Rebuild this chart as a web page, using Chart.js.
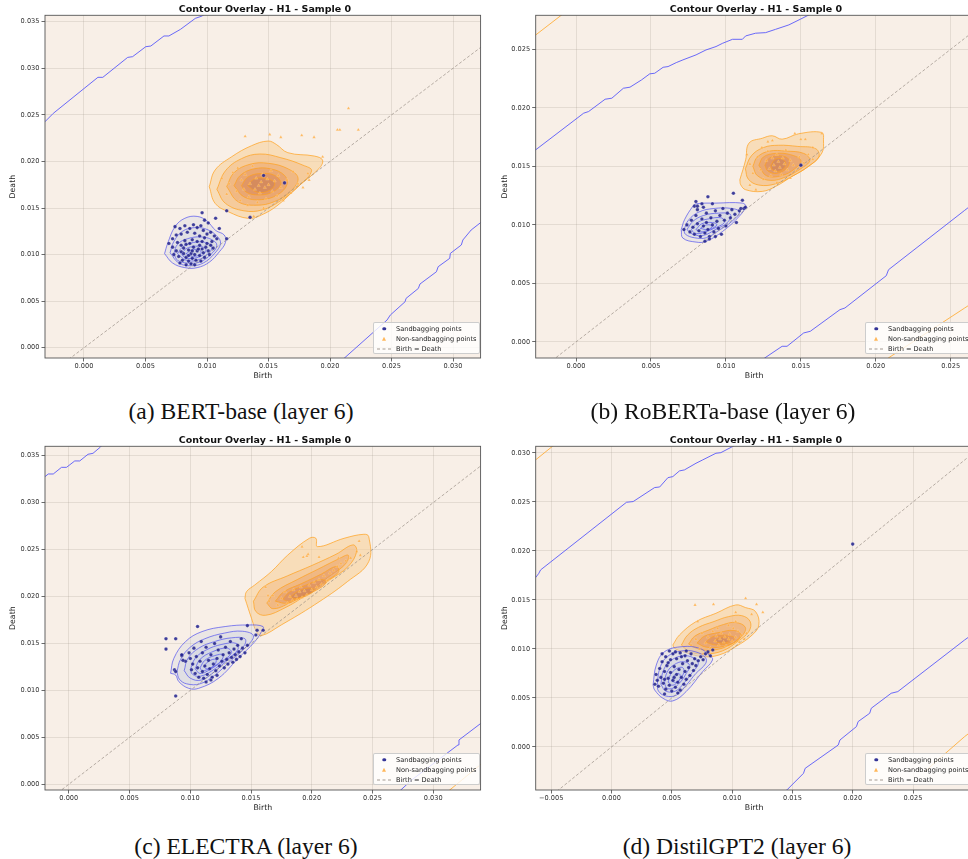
<!DOCTYPE html>
<html>
<head>
<meta charset="utf-8">
<script src="https://cdn.jsdelivr.net/npm/chart.js@4.4.1/dist/chart.umd.min.js"></script>
<style>
  html, body { margin: 0; padding: 0; background: #fff; overflow: hidden; }
  #page { position: relative; width: 968px; height: 859px; overflow: hidden; background: #fff; }
  .panel { position: absolute; }
  .ttl { position: absolute; transform: translate(-50%, -50%); font: bold 9.5px "DejaVu Sans", sans-serif; color: #111; white-space: nowrap; }
  .cap { position: absolute; transform: translate(-50%, -50%); font: 23.6px "Liberation Serif", "Times New Roman", serif; color: #111; white-space: nowrap; }
  .lg { position: absolute; width: 107px; height: 32px; background: rgba(255,255,255,0.8); border: 1px solid rgba(200,200,200,0.9); border-radius: 2px; box-sizing: border-box; font: 6.6px "DejaVu Sans", sans-serif; color: #222; }
  .lg .row { position: absolute; left: 22px; white-space: nowrap; transform: translateY(-50%); }
  .lg .mk { position: absolute; transform: translate(-50%, -50%); }
  .dot { width: 3.5px; height: 3.5px; border-radius: 50%; background: rgba(30,30,140,0.9); }
  .tri { width: 4px; height: 4px; background: rgba(255,170,60,0.85); clip-path: polygon(50% 0, 100% 100%, 0 100%); }
  .dash { width: 14px; height: 0; border-top: 1px dashed rgba(140,130,120,0.8); }
</style>
</head>
<body>
<div id="page">
  <div class="panel" style="left:0;top:0;width:485px;height:385px"><canvas id="cA"></canvas></div>
  <div class="panel" style="left:484px;top:0;width:493px;height:385px"><canvas id="cB"></canvas></div>
  <div class="panel" style="left:0;top:425px;width:485px;height:392px"><canvas id="cC"></canvas></div>
  <div class="panel" style="left:484px;top:425px;width:493px;height:392px"><canvas id="cD"></canvas></div>

  <div class="ttl" style="left:265px;top:8px">Contour Overlay - H1 - Sample 0</div>
  <div class="ttl" style="left:756px;top:8px">Contour Overlay - H1 - Sample 0</div>
  <div class="ttl" style="left:265px;top:439px">Contour Overlay - H1 - Sample 0</div>
  <div class="ttl" style="left:756px;top:439px">Contour Overlay - H1 - Sample 0</div>

  <div class="cap" style="left:241px;top:411px">(a) BERT-base (layer 6)</div>
  <div class="cap" style="left:723px;top:411px">(b) RoBERTa-base (layer 6)</div>
  <div class="cap" style="left:246px;top:846px">(c) ELECTRA (layer 6)</div>
  <div class="cap" style="left:737px;top:846px">(d) DistilGPT2 (layer 6)</div>
</div>
<script>
// ---------- Data ----------
const legendLabels = ["Sandbagging points", "Non-sandbagging points", "Birth = Death"];
const birthDeath = [[-0.01, -0.01], [0.04, 0.04]];

// (a) BERT-base
const limitsA = [-0.00317, 0.03224, -0.0011, 0.03569];
const xTicksA = [0, 0.005, 0.010, 0.015, 0.020, 0.025, 0.030];
const yTicksA = [0, 0.005, 0.010, 0.015, 0.020, 0.025, 0.030, 0.035];
const sandA = [[0.0074,0.0130],[0.0078,0.0128],[0.0082,0.0131],[0.0086,0.0128],[0.0089,0.0132],[0.0092,0.0129],[0.0095,0.0131],[0.0084,0.0124],[0.0079,0.0122],[0.0075,0.0121],[0.0090,0.0123],[0.0097,0.0126],[0.0100,0.0122],[0.0103,0.0124],[0.0106,0.0120],[0.0108,0.0117],[0.0104,0.0114],[0.0098,0.0118],[0.0094,0.0120],[0.0072,0.0117],[0.0069,0.0112],[0.0101,0.0134],[0.0098,0.0137],
  [0.0072,0.0108],[0.0075,0.0104],[0.0073,0.0100],[0.0077,0.0098],[0.0079,0.0103],[0.0081,0.0107],[0.0083,0.0111],[0.0085,0.0105],[0.0087,0.0101],[0.0083,0.0097],[0.0080,0.0094],[0.0085,0.0093],[0.0088,0.0096],[0.0090,0.0100],[0.0092,0.0104],[0.0089,0.0108],[0.0086,0.0112],[0.0094,0.0110],[0.0096,0.0106],[0.0094,0.0099],[0.0091,0.0094],[0.0087,0.0090],[0.0083,0.0089],[0.0097,0.0102],[0.0099,0.0108],[0.0101,0.0104],[0.0098,0.0097],[0.0095,0.0093],[0.0103,0.0110],[0.0105,0.0107],[0.0102,0.0100],[0.0079,0.0110],[0.0076,0.0113],[0.0082,0.0115],[0.0088,0.0116],[0.0092,0.0114],[0.0096,0.0114],[0.0100,0.0112],[0.0078,0.0091],[0.0090,0.0089],[0.0085,0.0099],[0.0081,0.0101],[0.0093,0.0106],[0.0088,0.0104],
  [0.0096,0.0145],[0.0107,0.0139],[0.0116,0.0147],[0.0116,0.0117],[0.0135,0.0140],[0.0146,0.0185],[0.0163,0.0177],[0.0110,0.0128]];
const nonSandA = [[0.0131,0.0227],[0.0151,0.0229],[0.0160,0.0226],[0.0177,0.0228],[0.0187,0.0226],[0.0206,0.0234],[0.0208,0.0234],[0.0215,0.0257],[0.0223,0.0234],[0.0194,0.0205],[0.0138,0.0141],
  [0.0112,0.0182],[0.0118,0.0176],[0.0121,0.0188],[0.0125,0.0193],[0.0128,0.0180],[0.0130,0.0170],[0.0131,0.0186],[0.0134,0.0162],[0.0135,0.0176],[0.0137,0.0195],[0.0139,0.0170],[0.0140,0.0182],[0.0142,0.0174],[0.0143,0.0166],[0.0144,0.0178],[0.0145,0.0186],[0.0147,0.0172],[0.0148,0.0160],[0.0149,0.0181],[0.0150,0.0175],[0.0152,0.0190],[0.0153,0.0168],[0.0155,0.0179],[0.0157,0.0163],[0.0158,0.0185],[0.0160,0.0172],[0.0162,0.0158],[0.0165,0.0180],[0.0168,0.0166],[0.0170,0.0189],[0.0174,0.0176],[0.0178,0.0172],[0.0182,0.0187],[0.0183,0.0180],[0.0124,0.0168],[0.0127,0.0158],[0.0133,0.0153],[0.0141,0.0156],[0.0146,0.0150],[0.0116,0.0165]];
const orangeLevelsA = [
  [[0.01018,0.01729],[0.01066,0.01908],[0.01201,0.02051],[0.01362,0.02169],[0.01496,0.02219],[0.01563,0.02183],[0.01657,0.02094],[0.01872,0.02058],[0.01939,0.02015],[0.01912,0.01926],[0.01738,0.01729],[0.01577,0.01532],[0.01442,0.01425],[0.01335,0.01389],[0.01174,0.01460],[0.01066,0.01550]],
  [[0.0108,0.0170],[0.0115,0.0190],[0.0128,0.0203],[0.0143,0.0208],[0.0160,0.0204],[0.0178,0.0196],[0.0185,0.0190],[0.0175,0.0174],[0.0160,0.0158],[0.0145,0.0148],[0.0130,0.0147],[0.0115,0.0155]],
  [[0.0116,0.0173],[0.0122,0.0188],[0.0135,0.0197],[0.0150,0.0198],[0.0166,0.0192],[0.0174,0.0182],[0.0168,0.0168],[0.0155,0.0157],[0.0140,0.0153],[0.0125,0.0157]],
  [[0.0122,0.0174],[0.0127,0.0185],[0.0138,0.0192],[0.0152,0.0192],[0.0163,0.0185],[0.0165,0.0175],[0.0157,0.0164],[0.0144,0.0159],[0.0130,0.0162]],
  [[0.0128,0.0174],[0.0133,0.0183],[0.0143,0.0187],[0.0155,0.0185],[0.0160,0.0176],[0.0153,0.0167],[0.0142,0.0164],[0.0132,0.0167]],
  [[0.0133,0.0174],[0.0138,0.0181],[0.0147,0.0182],[0.0155,0.0177],[0.0151,0.0169],[0.0141,0.0167]]];
const blueLevelsA = [
  [[0.00655,0.0101],[0.0068,0.0112],[0.0074,0.0130],[0.0082,0.0139],[0.0092,0.0141],[0.0100,0.0136],[0.0107,0.0126],[0.0114,0.0121],[0.0115,0.0113],[0.0110,0.0103],[0.0102,0.0092],[0.0092,0.0086],[0.0082,0.0086],[0.0072,0.0091]],
  [[0.0070,0.0102],[0.0073,0.0114],[0.0080,0.0125],[0.0090,0.0129],[0.0100,0.0127],[0.0108,0.0120],[0.0111,0.0112],[0.0106,0.0101],[0.0097,0.0091],[0.0087,0.0088],[0.0077,0.0091]],
  [[0.0073,0.0101],[0.0076,0.0111],[0.0084,0.0117],[0.0095,0.0119],[0.0104,0.0116],[0.0108,0.0110],[0.0103,0.0100],[0.0094,0.0092],[0.0084,0.0091],[0.0076,0.0094]],
  [[0.0076,0.0101],[0.0080,0.0108],[0.0089,0.0113],[0.0099,0.0113],[0.0104,0.0108],[0.0100,0.0100],[0.0092,0.0094],[0.0083,0.0094]],
  [[0.0079,0.0101],[0.0084,0.0107],[0.0093,0.0109],[0.0099,0.0106],[0.0097,0.0100],[0.0089,0.0096],[0.0082,0.0097]],
  [[0.0083,0.0101],[0.0088,0.0105],[0.0094,0.0105],[0.0095,0.0101],[0.0089,0.0098]]];
const blueEdgesA = [
  [[-0.0035,0.0238],[-0.00317,0.02427],[-0.0025,0.02516],[0.00113,0.02903],[0.00153,0.02903],[0.00355,0.03117],[0.00395,0.03125],[0.00502,0.03232],[0.00543,0.03239],[0.0065,0.03347],[0.0069,0.03347],[0.00784,0.03418],[0.00905,0.03536],[0.00959,0.03561],[0.0100,0.0360]],
  [[0.0200,-0.0025],[0.02114,-0.00114],[0.02463,0.00297],[0.02490,0.00351],[0.02610,0.00494],[0.02618,0.00530],[0.02718,0.00637],[0.02731,0.00684],[0.02865,0.00816],[0.02879,0.00870],[0.02973,0.00960],[0.02978,0.01013],[0.03067,0.01103],[0.03080,0.01157],[0.03147,0.01264],[0.0325,0.0137]]];
const orangeEdgesA = [];

// (b) RoBERTa-base
const limitsB = [-0.00269, 0.02646, -0.00137, 0.0279];
const xTicksB = [0, 0.005, 0.010, 0.015, 0.020, 0.025];
const yTicksB = [0, 0.005, 0.010, 0.015, 0.020, 0.025];
const sandB = [[0.0072,0.0096],[0.0074,0.0100],[0.0076,0.0094],[0.0077,0.0104],[0.0078,0.0098],[0.0079,0.0092],[0.0080,0.0108],[0.0081,0.0101],[0.0082,0.0095],[0.0083,0.0090],[0.0084,0.0105],[0.0085,0.0099],[0.0086,0.0093],[0.0087,0.0110],[0.0087,0.0102],[0.0088,0.0096],[0.0089,0.0090],[0.0090,0.0106],[0.0091,0.0100],[0.0092,0.0094],[0.0093,0.0112],[0.0094,0.0103],[0.0095,0.0097],[0.0096,0.0108],[0.0097,0.0092],[0.0098,0.0114],[0.0099,0.0104],[0.0100,0.0099],[0.0101,0.0110],[0.0103,0.0106],[0.0104,0.0113],[0.0106,0.0109],[0.0107,0.0102],[0.0109,0.0112],[0.0110,0.0114],[0.0112,0.0114],[0.0085,0.0115],[0.0081,0.0113],[0.0089,0.0088],[0.0093,0.0090],[0.0086,0.0086],[0.0079,0.0116],
  [0.0080,0.0120],[0.0081,0.0116],[0.0088,0.0124],[0.0084,0.0118],[0.0091,0.0118],[0.0105,0.0127],[0.0111,0.0121],[0.0150,0.0151],[0.0113,0.0115]];
const nonSandB = [[0.0116,0.0152],[0.0118,0.0144],[0.0121,0.0158],[0.0123,0.0147],[0.0125,0.0139],[0.0127,0.0155],[0.0128,0.0163],[0.0129,0.0148],[0.0130,0.0142],[0.0131,0.0157],[0.0132,0.0151],[0.0133,0.0146],[0.0134,0.0160],[0.0135,0.0154],[0.0136,0.0149],[0.0137,0.0143],[0.0138,0.0157],[0.0139,0.0152],[0.0140,0.0164],[0.0141,0.0147],[0.0143,0.0155],[0.0145,0.0151],[0.0147,0.0146],[0.0149,0.0158],[0.0152,0.0153],[0.0155,0.0160],[0.0158,0.0156],[0.0124,0.0166],[0.0128,0.0171],[0.0131,0.0172],[0.0146,0.0178],[0.0150,0.0173],[0.0153,0.0173],[0.0158,0.0166],[0.0164,0.0178],[0.0114,0.0160],[0.0116,0.0134],[0.0120,0.0130],[0.0134,0.0136],[0.0143,0.0140]];
const orangeLevelsB = [
  [[0.01093,0.01385],[0.01132,0.01556],[0.01154,0.01698],[0.01243,0.0174],[0.01309,0.01761],[0.01375,0.01732],[0.01485,0.01778],[0.0164,0.01789],[0.01651,0.01726],[0.0164,0.01613],[0.01551,0.01499],[0.01441,0.01414],[0.01331,0.01328],[0.01243,0.01286],[0.01132,0.013],[0.01099,0.01342]],
  [[0.0113,0.0148],[0.0117,0.0159],[0.0125,0.0166],[0.0135,0.0168],[0.0148,0.0167],[0.0160,0.0165],[0.0162,0.0158],[0.0155,0.0150],[0.0145,0.0142],[0.0133,0.0135],[0.0122,0.0134],[0.0115,0.0139]],
  [[0.0118,0.0150],[0.0121,0.0158],[0.0129,0.0163],[0.0140,0.0163],[0.0152,0.0161],[0.0156,0.0155],[0.0150,0.0148],[0.0140,0.0141],[0.0130,0.0138],[0.0121,0.0142]],
  [[0.0122,0.0151],[0.0125,0.0158],[0.0133,0.0161],[0.0143,0.0160],[0.0150,0.0155],[0.0146,0.0148],[0.0137,0.0142],[0.0127,0.0142]],
  [[0.0126,0.0151],[0.0129,0.0157],[0.0136,0.0159],[0.0142,0.0156],[0.0141,0.0149],[0.0134,0.0144],[0.0128,0.0146]],
  [[0.0130,0.0151],[0.0133,0.0156],[0.0138,0.0156],[0.0140,0.0151],[0.0136,0.0146],[0.0131,0.0147]]];
const blueLevelsB = [
  [[0.00702,0.00959],[0.00724,0.01044],[0.00779,0.01158],[0.00801,0.0118],[0.00934,0.01186],[0.0111,0.01186],[0.01132,0.01158],[0.01088,0.01072],[0.00978,0.00944],[0.00867,0.00859],[0.00801,0.00853],[0.00713,0.00887]],
  [[0.0072,0.0096],[0.0075,0.0104],[0.0082,0.0111],[0.0092,0.0114],[0.0104,0.0114],[0.0109,0.0111],[0.0104,0.0103],[0.0095,0.0095],[0.0087,0.0089],[0.0079,0.0089],[0.0073,0.0092]],
  [[0.0074,0.0096],[0.0078,0.0103],[0.0085,0.0108],[0.0095,0.0110],[0.0103,0.0109],[0.0101,0.0102],[0.0093,0.0096],[0.0085,0.0091],[0.0078,0.0092]],
  [[0.0077,0.0096],[0.0081,0.0102],[0.0088,0.0105],[0.0097,0.0106],[0.0099,0.0102],[0.0092,0.0097],[0.0084,0.0093],[0.0079,0.0093]],
  [[0.0080,0.0096],[0.0084,0.0101],[0.0091,0.0102],[0.0094,0.0100],[0.0089,0.0096],[0.0083,0.0094]],
  [[0.0083,0.0097],[0.0087,0.0100],[0.0091,0.0099],[0.0088,0.0096]]];
const blueEdgesB = [
  [[-0.0035,0.0155],[-0.00269,0.01641],[0.00051,0.01954],[0.00084,0.01968],[0.00194,0.02073],[0.00239,0.02082],[0.00316,0.02167],[0.0036,0.02176],[0.00437,0.02238],[0.00492,0.0229],[0.00525,0.02295],[0.00581,0.02346],[0.00614,0.02352],[0.00669,0.02386],[0.00713,0.02409],[0.00801,0.02452],[0.00867,0.02494],[0.00934,0.02523],[0.00978,0.02551],[0.01044,0.02585],[0.0111,0.02585],[0.01132,0.02614],[0.01198,0.02637],[0.01265,0.02642],[0.01331,0.0267],[0.0142,0.02708],[0.01496,0.02756],[0.01541,0.02785],[0.0158,0.0281]],
  [[0.0120,-0.0020],[0.0126,-0.00136],[0.01375,-0.00037],[0.01408,-0.00037],[0.01519,0.00077],[0.01563,0.00091],[0.01761,0.00276],[0.01794,0.0029],[0.0207,0.00566],[0.02085,0.00617],[0.02593,0.01124],[0.0275,0.0128]]];
const orangeEdgesB = [
  [[-0.0035,0.0255],[-0.00269,0.02622],[-0.00099,0.0279],[-0.0005,0.0284]],
  [[0.0200,-0.0022],[0.02085,-0.00136],[0.02593,0.0029],[0.0275,0.0042]]];

// (c) ELECTRA
const limitsC = [-0.00196, 0.0339, -0.00061, 0.0360];
const xTicksC = [0, 0.005, 0.010, 0.015, 0.020, 0.025, 0.030];
const yTicksC = [0, 0.005, 0.010, 0.015, 0.020, 0.025, 0.030, 0.035];
const sandC = [[0.0093,0.0137],[0.0096,0.0131],[0.0099,0.0140],[0.0100,0.0134],[0.0102,0.0128],[0.0103,0.0145],[0.0104,0.0118],[0.0105,0.0136],[0.0106,0.0124],[0.0107,0.0114],[0.0108,0.0131],[0.0109,0.0152],[0.0110,0.0120],[0.0110,0.0140],[0.0111,0.0113],[0.0112,0.0126],[0.0113,0.0146],[0.0114,0.0117],[0.0115,0.0132],[0.0116,0.0123],[0.0117,0.0138],[0.0118,0.0114],[0.0119,0.0128],[0.0120,0.0150],[0.0121,0.0121],[0.0122,0.0134],[0.0123,0.0143],[0.0124,0.0126],[0.0125,0.0157],[0.0126,0.0131],[0.0127,0.0138],[0.0128,0.0124],[0.0129,0.0146],[0.0130,0.0133],[0.0131,0.0128],[0.0132,0.0140],[0.0133,0.0152],[0.0134,0.0135],[0.0135,0.0130],[0.0136,0.0144],[0.0137,0.0138],[0.0138,0.0133],[0.0139,0.0148],[0.0140,0.0141],[0.0141,0.0136],[0.0142,0.0155],[0.0143,0.0145],[0.0145,0.0140],[0.0147,0.0148],[0.0113,0.0109],[0.0117,0.0111],[0.0122,0.0116],[0.0101,0.0122],
  [0.0080,0.0155],[0.0088,0.0155],[0.0080,0.0144],[0.0106,0.0168],[0.0088,0.0094],[0.0087,0.0122],[0.0088,0.0120],[0.0093,0.0138],[0.0094,0.0132],[0.0147,0.0169],[0.0155,0.0164],[0.0154,0.0159],[0.0160,0.0164]];
const nonSandC = [[0.0165,0.0195],[0.0168,0.0201],[0.0172,0.0191],[0.0175,0.0198],[0.0178,0.0205],[0.0180,0.0193],[0.0182,0.0200],[0.0184,0.0196],[0.0185,0.0207],[0.0187,0.0201],[0.0188,0.0197],[0.0190,0.0205],[0.0191,0.0210],[0.0192,0.0199],[0.0194,0.0206],[0.0196,0.0202],[0.0198,0.0212],[0.0200,0.0207],[0.0202,0.0215],[0.0204,0.0210],[0.0206,0.0218],[0.0208,0.0213],[0.0210,0.0222],[0.0213,0.0217],[0.0215,0.0225],[0.0218,0.0228],[0.0221,0.0232],[0.0224,0.0235],[0.0228,0.0238],[0.0232,0.0241],[0.0237,0.0248],[0.0239,0.0259],[0.0240,0.0244],[0.0193,0.0242],[0.0196,0.0243],[0.0197,0.0245],[0.0192,0.0253],[0.0206,0.0242],[0.0222,0.0241],[0.0162,0.0210],[0.0164,0.0201]];
const orangeLevelsC = [
  [[0.0145,0.01981],[0.01504,0.01768],[0.01545,0.01626],[0.01586,0.01583],[0.01749,0.01697],[0.02021,0.0191],[0.02293,0.02158],[0.02469,0.02371],[0.02469,0.02638],[0.02429,0.02663],[0.02266,0.0262],[0.02048,0.02531],[0.02034,0.0262],[0.0198,0.0262],[0.01803,0.02442],[0.01667,0.02265],[0.01531,0.02123],[0.01463,0.02052]],
  [[0.0152,0.0195],[0.0160,0.0210],[0.0180,0.0222],[0.0200,0.0233],[0.0220,0.0245],[0.0234,0.0255],[0.0237,0.0248],[0.0230,0.0232],[0.0215,0.0218],[0.0195,0.0201],[0.0178,0.0188],[0.0162,0.0180],[0.0154,0.0184]],
  [[0.0163,0.0193],[0.0170,0.0205],[0.0188,0.0218],[0.0205,0.0229],[0.0222,0.0240],[0.0230,0.0244],[0.0228,0.0235],[0.0215,0.0222],[0.0198,0.0206],[0.0180,0.0192],[0.0168,0.0187]],
  [[0.0170,0.0195],[0.0177,0.0205],[0.0192,0.0214],[0.0208,0.0224],[0.0220,0.0232],[0.0222,0.0226],[0.0210,0.0215],[0.0195,0.0202],[0.0180,0.0193]],
  [[0.0176,0.0197],[0.0182,0.0205],[0.0195,0.0212],[0.0208,0.0218],[0.0212,0.0215],[0.0204,0.0207],[0.0190,0.0199],[0.0181,0.0195]],
  [[0.0182,0.0199],[0.0188,0.0205],[0.0197,0.0209],[0.0202,0.0207],[0.0196,0.0201],[0.0187,0.0198]]];
const blueLevelsC = [
  [[0.00838,0.01182],[0.00865,0.01342],[0.0096,0.01519],[0.01096,0.01626],[0.01287,0.0168],[0.0148,0.01697],[0.01599,0.0168],[0.01586,0.01626],[0.01531,0.01519],[0.01395,0.01342],[0.01232,0.01129],[0.01069,0.01022],[0.00987,0.01022],[0.00906,0.01093],[0.00879,0.01164]],
  [[0.0089,0.0120],[0.0092,0.0133],[0.0100,0.0146],[0.0112,0.0155],[0.0128,0.0161],[0.0143,0.0163],[0.0152,0.0158],[0.0145,0.0145],[0.0132,0.0130],[0.0120,0.0116],[0.0108,0.0107],[0.0097,0.0107],[0.0091,0.0112]],
  [[0.0095,0.0121],[0.0098,0.0134],[0.0107,0.0145],[0.0120,0.0152],[0.0134,0.0156],[0.0145,0.0155],[0.0144,0.0147],[0.0132,0.0134],[0.0120,0.0120],[0.0109,0.0111],[0.0100,0.0113]],
  [[0.0100,0.0122],[0.0104,0.0134],[0.0113,0.0143],[0.0126,0.0149],[0.0138,0.0150],[0.0139,0.0143],[0.0129,0.0132],[0.0118,0.0121],[0.0108,0.0115],[0.0102,0.0117]],
  [[0.0104,0.0123],[0.0108,0.0133],[0.0118,0.0141],[0.0130,0.0145],[0.0134,0.0140],[0.0126,0.0131],[0.0116,0.0122],[0.0108,0.0118]],
  [[0.0108,0.0124],[0.0112,0.0132],[0.0120,0.0137],[0.0127,0.0138],[0.0125,0.0131],[0.0117,0.0124],[0.0110,0.0121]],
  [[0.0111,0.0125],[0.0115,0.0131],[0.0121,0.0133],[0.0120,0.0127],[0.0114,0.0123]]];
const blueEdgesC = [
  [[-0.0025,0.0325],[-0.00196,0.03277],[-0.00169,0.03305],[-0.00128,0.03305],[-0.0006,0.03376],[-0.00019,0.03376],[0.00049,0.03444],[0.0009,0.03444],[0.00158,0.03515],[0.00199,0.03525],[0.00261,0.03593],[0.0028,0.0362]],
  [[0.0268,-0.0012],[0.02733,-0.00061],[0.02823,0.00046],[0.03204,0.00419],[0.03212,0.00472],[0.03386,0.00643],[0.0345,0.0070]]];
const orangeEdgesC = [
  [[0.0310,-0.0010],[0.03136,-0.00061],[0.03386,0.00206],[0.0345,0.0027]]];

// (d) DistilGPT2
const limitsD = [-0.00628, 0.02994, -0.00439, 0.03068];
const xTicksD = [-0.005, 0, 0.005, 0.010, 0.015, 0.020, 0.025];
const yTicksD = [0, 0.005, 0.010, 0.015, 0.020, 0.025, 0.030];
const sandD = [[0.0037,0.0074],[0.0038,0.0068],[0.0039,0.0062],[0.0040,0.0080],[0.0041,0.0071],[0.0042,0.0087],[0.0043,0.0065],[0.0044,0.0077],[0.0045,0.0092],[0.0045,0.0059],[0.0046,0.0083],[0.0047,0.0070],[0.0048,0.0063],[0.0049,0.0089],[0.0049,0.0076],[0.0050,0.0057],[0.0051,0.0095],[0.0051,0.0068],[0.0052,0.0082],[0.0053,0.0061],[0.0054,0.0074],[0.0054,0.0090],[0.0055,0.0066],[0.0056,0.0079],[0.0057,0.0096],[0.0057,0.0058],[0.0058,0.0071],[0.0059,0.0085],[0.0060,0.0064],[0.0061,0.0093],[0.0061,0.0077],[0.0062,0.0069],[0.0063,0.0088],[0.0064,0.0081],[0.0065,0.0073],[0.0066,0.0095],[0.0067,0.0085],[0.0068,0.0078],[0.0069,0.0090],[0.0070,0.0083],[0.0072,0.0088],[0.0074,0.0092],[0.0076,0.0089],[0.0078,0.0095],[0.0080,0.0097],[0.0082,0.0093],[0.0084,0.0099],[0.0048,0.0098],[0.0053,0.0097],[0.0042,0.0095],[0.0044,0.0054],[0.0055,0.0055],[0.0036,0.0064],[0.0058,0.0092],[0.0062,0.0098],[0.0047,0.0086],[0.0052,0.0071],[0.0044,0.0069],
  [0.0200,0.0207]];
const nonSandD = [[0.00693,0.01449],[0.00846,0.01456],[0.01112,0.01517],[0.01203,0.01456],[0.01255,0.01374],[0.01162,0.01354],[0.0103,0.01374],[0.00715,0.01279],
  [0.0066,0.0104],[0.0070,0.0110],[0.0073,0.0100],[0.0075,0.0116],[0.0078,0.0106],[0.0080,0.0112],[0.0082,0.0101],[0.0084,0.0118],[0.0086,0.0108],[0.0087,0.0113],[0.0089,0.0104],[0.0090,0.0110],[0.0091,0.0116],[0.0093,0.0107],[0.0094,0.0112],[0.0095,0.0103],[0.0097,0.0110],[0.0098,0.0115],[0.0100,0.0108],[0.0101,0.0121],[0.0103,0.0112],[0.0105,0.0118],[0.0106,0.0107],[0.0108,0.0114],[0.0110,0.0110],[0.0112,0.0116],[0.0097,0.0124],[0.0103,0.0128],[0.0088,0.0121],[0.0076,0.0095]];
const orangeLevelsD = [
  [[0.00509,0.01041],[0.00564,0.01143],[0.00701,0.01279],[0.00866,0.01364],[0.0103,0.01449],[0.01112,0.01422],[0.01195,0.01381],[0.01222,0.01245],[0.01167,0.01143],[0.0103,0.01024],[0.00893,0.00939],[0.00756,0.00922],[0.00591,0.00973],[0.00523,0.01007]],
  [[0.0058,0.0104],[0.0063,0.0114],[0.0072,0.0122],[0.0085,0.0128],[0.0097,0.0133],[0.0108,0.0134],[0.0115,0.0128],[0.0114,0.0118],[0.0105,0.0108],[0.0092,0.0098],[0.0078,0.0095],[0.0065,0.0097]],
  [[0.0064,0.0105],[0.0069,0.0113],[0.0080,0.0119],[0.0093,0.0125],[0.0103,0.0127],[0.0111,0.0122],[0.0108,0.0113],[0.0098,0.0104],[0.0085,0.0099],[0.0072,0.0100]],
  [[0.0071,0.0106],[0.0077,0.0113],[0.0090,0.0117],[0.0101,0.0119],[0.0107,0.0115],[0.0102,0.0107],[0.0090,0.0102],[0.0078,0.0102]],
  [[0.0078,0.0107],[0.0085,0.0113],[0.0096,0.0114],[0.0102,0.0111],[0.0097,0.0106],[0.0087,0.0104]],
  [[0.0085,0.0108],[0.0091,0.0112],[0.0098,0.0111],[0.0096,0.0107],[0.0090,0.0106]]];
const blueLevelsD = [
  [[0.00345,0.00633],[0.00372,0.00837],[0.00441,0.00973],[0.00591,0.01024],[0.00728,0.01007],[0.0081,0.00939],[0.00838,0.00888],[0.00756,0.00769],[0.00619,0.00565],[0.00509,0.0047],[0.00427,0.00497],[0.00358,0.00582]],
  [[0.0038,0.0064],[0.0040,0.0080],[0.0046,0.0092],[0.0058,0.0098],[0.0070,0.0097],[0.0078,0.0091],[0.0078,0.0085],[0.0070,0.0075],[0.0062,0.0063],[0.0054,0.0053],[0.0045,0.0052],[0.0039,0.0057]],
  [[0.0041,0.0064],[0.0043,0.0078],[0.0049,0.0088],[0.0059,0.0093],[0.0068,0.0091],[0.0072,0.0085],[0.0067,0.0076],[0.0060,0.0065],[0.0053,0.0057],[0.0045,0.0057]],
  [[0.0044,0.0065],[0.0046,0.0076],[0.0052,0.0084],[0.0060,0.0087],[0.0065,0.0083],[0.0062,0.0075],[0.0057,0.0066],[0.0051,0.0060],[0.0046,0.0060]],
  [[0.0047,0.0066],[0.0049,0.0074],[0.0054,0.0080],[0.0059,0.0081],[0.0060,0.0076],[0.0056,0.0068],[0.0051,0.0063]],
  [[0.0050,0.0067],[0.0052,0.0073],[0.0056,0.0075],[0.0057,0.0070],[0.0054,0.0066]]];
const blueEdgesD = [
  [[-0.0070,0.0165],[-0.00629,0.01728],[-0.00602,0.01772],[-0.00588,0.01806],[0.00125,0.02497],[0.0018,0.02504],[0.00358,0.02647],[0.004,0.02653],[0.00468,0.02748],[0.00509,0.02759],[0.00564,0.02817],[0.00605,0.02827],[0.00701,0.02895],[0.00756,0.02929],[0.00866,0.02997],[0.00907,0.03003],[0.01003,0.03065],[0.0105,0.0310]],
  [[0.0140,-0.0050],[0.01455,-0.00438],[0.01592,-0.00269],[0.01606,-0.00218],[0.0188,0.0002],[0.01894,0.00071],[0.02031,0.00208],[0.02045,0.00259],[0.02141,0.00344],[0.02154,0.00395],[0.02319,0.00548],[0.02374,0.00565],[0.02928,0.01092],[0.0305,0.0120]]];
const orangeEdgesD = [
  [[-0.0070,0.0285],[-0.00629,0.02929],[-0.00492,0.03065],[-0.0045,0.0310]],
  [[0.0260,-0.0025],[0.02675,-0.00166],[0.02928,0.00106],[0.0305,0.0022]]];

// ---------- Styles ----------
const PLOT_BG = "rgb(248,239,231)";
const ORANGE_FILLS = ["rgba(248,208,155,0.6)", "rgba(242,182,122,0.45)", "rgba(236,162,102,0.45)", "rgba(226,146,92,0.45)", "rgba(214,134,86,0.45)", "rgba(200,124,84,0.45)"];
const ORANGE_LINE = "rgba(255,162,30,0.9)";
const BLUE_LINE = "rgba(75,75,238,0.85)";
const BLUE_FILL = "rgba(200,210,225,0.28)";
const EDGE_BLUE = "rgba(90,90,250,0.9)";
const EDGE_ORANGE = "rgba(255,175,60,0.9)";

// ---------- Helpers ----------
function toPts(arr) { return arr.map(p => ({ x: p[0], y: p[1] })); }
function ring(arr) { return toPts(arr.concat([arr[0]])); }
function fmt(v) { return v.toFixed(3).replace("-", "\u2212"); }

const plotFrame = {
  id: "plotFrame",
  beforeDraw(chart) {
    const a = chart.chartArea, ctx = chart.ctx;
    ctx.save();
    ctx.fillStyle = PLOT_BG;
    ctx.fillRect(a.left, a.top, a.right - a.left, a.bottom - a.top);
    ctx.restore();
  },
  afterDraw(chart) {
    const a = chart.chartArea, ctx = chart.ctx;
    ctx.save();
    ctx.strokeStyle = "#555";
    ctx.lineWidth = 0.9;
    ctx.strokeRect(a.left, a.top, a.right - a.left, a.bottom - a.top);
    ctx.restore();
  }
};

function lineDs(data, extra) {
  return Object.assign({ data: data, showLine: true, pointRadius: 0, borderWidth: 0.8, fill: false }, extra);
}

function makePanel(id, p) {
  const ds = [];
  ds.push({ label: legendLabels[0], data: toPts(p.sand), pointStyle: "circle", pointRadius: 1.8,
    backgroundColor: "rgba(30,30,140,0.85)", borderColor: "rgba(255,255,255,0.5)", borderWidth: 0.4, order: 0 });
  ds.push({ label: legendLabels[1], data: toPts(p.nonSand), pointStyle: "triangle", pointRadius: 1.9,
    backgroundColor: "rgba(255,170,60,0.8)", borderColor: "rgba(255,255,255,0.5)", borderWidth: 0.3, order: 1 });
  ds.push(lineDs(toPts(birthDeath), { label: legendLabels[2], borderColor: "rgba(150,140,130,0.85)", borderDash: [3, 2], order: 2 }));
  // blue KDE: every level lightly shaded, so the centre gets a bit darker
  p.blueLevels.forEach((lv, i) => ds.push(lineDs(ring(lv), {
    borderColor: BLUE_LINE, tension: 0.4, fill: "shape", backgroundColor: BLUE_FILL, order: 10 - i })));
  p.orangeLevels.forEach((lv, i) => ds.push(lineDs(ring(lv), {
    borderColor: ORANGE_LINE, tension: 0.4, fill: "shape", backgroundColor: ORANGE_FILLS[i], order: 20 - i })));
  p.blueEdges.forEach(e => ds.push(lineDs(toPts(e), { borderColor: EDGE_BLUE, borderWidth: 1, order: 30 })));
  p.orangeEdges.forEach(e => ds.push(lineDs(toPts(e), { borderColor: EDGE_ORANGE, borderWidth: 1, order: 30 })));

  const tickFont = { family: "DejaVu Sans", size: 6.6 };
  const titleFont = { family: "DejaVu Sans", size: 7.8 };
  const grid = { color: "rgba(150,140,130,0.25)", lineWidth: 0.8, tickLength: 3.5, tickColor: "#444", tickWidth: 0.8 };

  new Chart(document.getElementById(id), {
    type: "scatter",
    data: { datasets: ds },
    options: {
      animation: false, responsive: true, maintainAspectRatio: false, events: [],
      layout: { padding: { top: p.padTop, right: 1, left: 0, bottom: 0 } },
      plugins: { legend: { display: false }, tooltip: { enabled: false } },
      scales: {
        x: {
          type: "linear", min: p.limits[0], max: p.limits[1],
          afterBuildTicks: s => { s.ticks = p.xTicks.map(v => ({ value: v })); },
          afterFit: s => { s.height = 27; },
          ticks: { callback: fmt, font: tickFont, color: "#333", padding: 1, maxRotation: 0, autoSkip: false },
          grid: grid, border: { display: false },
          title: { display: true, text: "Birth", font: titleFont, color: "#222", padding: { top: 0, bottom: 4.4 } }
        },
        y: {
          type: "linear", min: p.limits[2], max: p.limits[3],
          afterBuildTicks: s => { s.ticks = p.yTicks.map(v => ({ value: v })); },
          afterFit: s => { s.width = p.yWidth; },
          ticks: { callback: fmt, font: tickFont, color: "#333", padding: 2, autoSkip: false },
          grid: grid, border: { display: false },
          title: { display: true, text: "Death", font: titleFont, color: "#222", padding: { top: p.yTitlePad, bottom: 0 } }
        }
      }
    },
    plugins: [plotFrame]
  });
}

function addLegend(left, top) {
  const box = document.createElement("div");
  box.className = "lg";
  box.style.left = left + "px";
  box.style.top = top + "px";
  const marks = ['<div class="mk dot"></div>', '<div class="mk tri"></div>', '<div class="mk dash"></div>'];
  legendLabels.forEach((t, i) => {
    const y = 5.6 + i * 10.2;
    box.innerHTML += '<div style="position:absolute;left:10px;top:' + y + 'px">' + marks[i] + '</div>' +
      '<div class="row" style="top:' + y + 'px">' + t + '</div>';
  });
  document.getElementById("page").appendChild(box);
}

// ---------- Start ----------
makePanel("cA", { limits: limitsA, xTicks: xTicksA, yTicks: yTicksA, sand: sandA, nonSand: nonSandA,
  orangeLevels: orangeLevelsA, blueLevels: blueLevelsA, blueEdges: blueEdgesA, orangeEdges: orangeEdgesA,
  padTop: 15.3, yWidth: 45, yTitlePad: 8.6 });
makePanel("cB", { limits: limitsB, xTicks: xTicksB, yTicks: yTicksB, sand: sandB, nonSand: nonSandB,
  orangeLevels: orangeLevelsB, blueLevels: blueLevelsB, blueEdges: blueEdgesB, orangeEdges: orangeEdgesB,
  padTop: 15.3, yWidth: 51.7, yTitlePad: 16 });
makePanel("cC", { limits: limitsC, xTicks: xTicksC, yTicks: yTicksC, sand: sandC, nonSand: nonSandC,
  orangeLevels: orangeLevelsC, blueLevels: blueLevelsC, blueEdges: blueEdgesC, orangeEdges: orangeEdgesC,
  padTop: 21.3, yWidth: 45, yTitlePad: 8.6 });
makePanel("cD", { limits: limitsD, xTicks: xTicksD, yTicks: yTicksD, sand: sandD, nonSand: nonSandD,
  orangeLevels: orangeLevelsD, blueLevels: blueLevelsD, blueEdges: blueEdgesD, orangeEdges: orangeEdgesD,
  padTop: 21.3, yWidth: 51.7, yTitlePad: 16 });

addLegend(373, 322);
addLegend(865, 322);
addLegend(373, 753);
addLegend(865, 753);
</script>
</body>
</html>
